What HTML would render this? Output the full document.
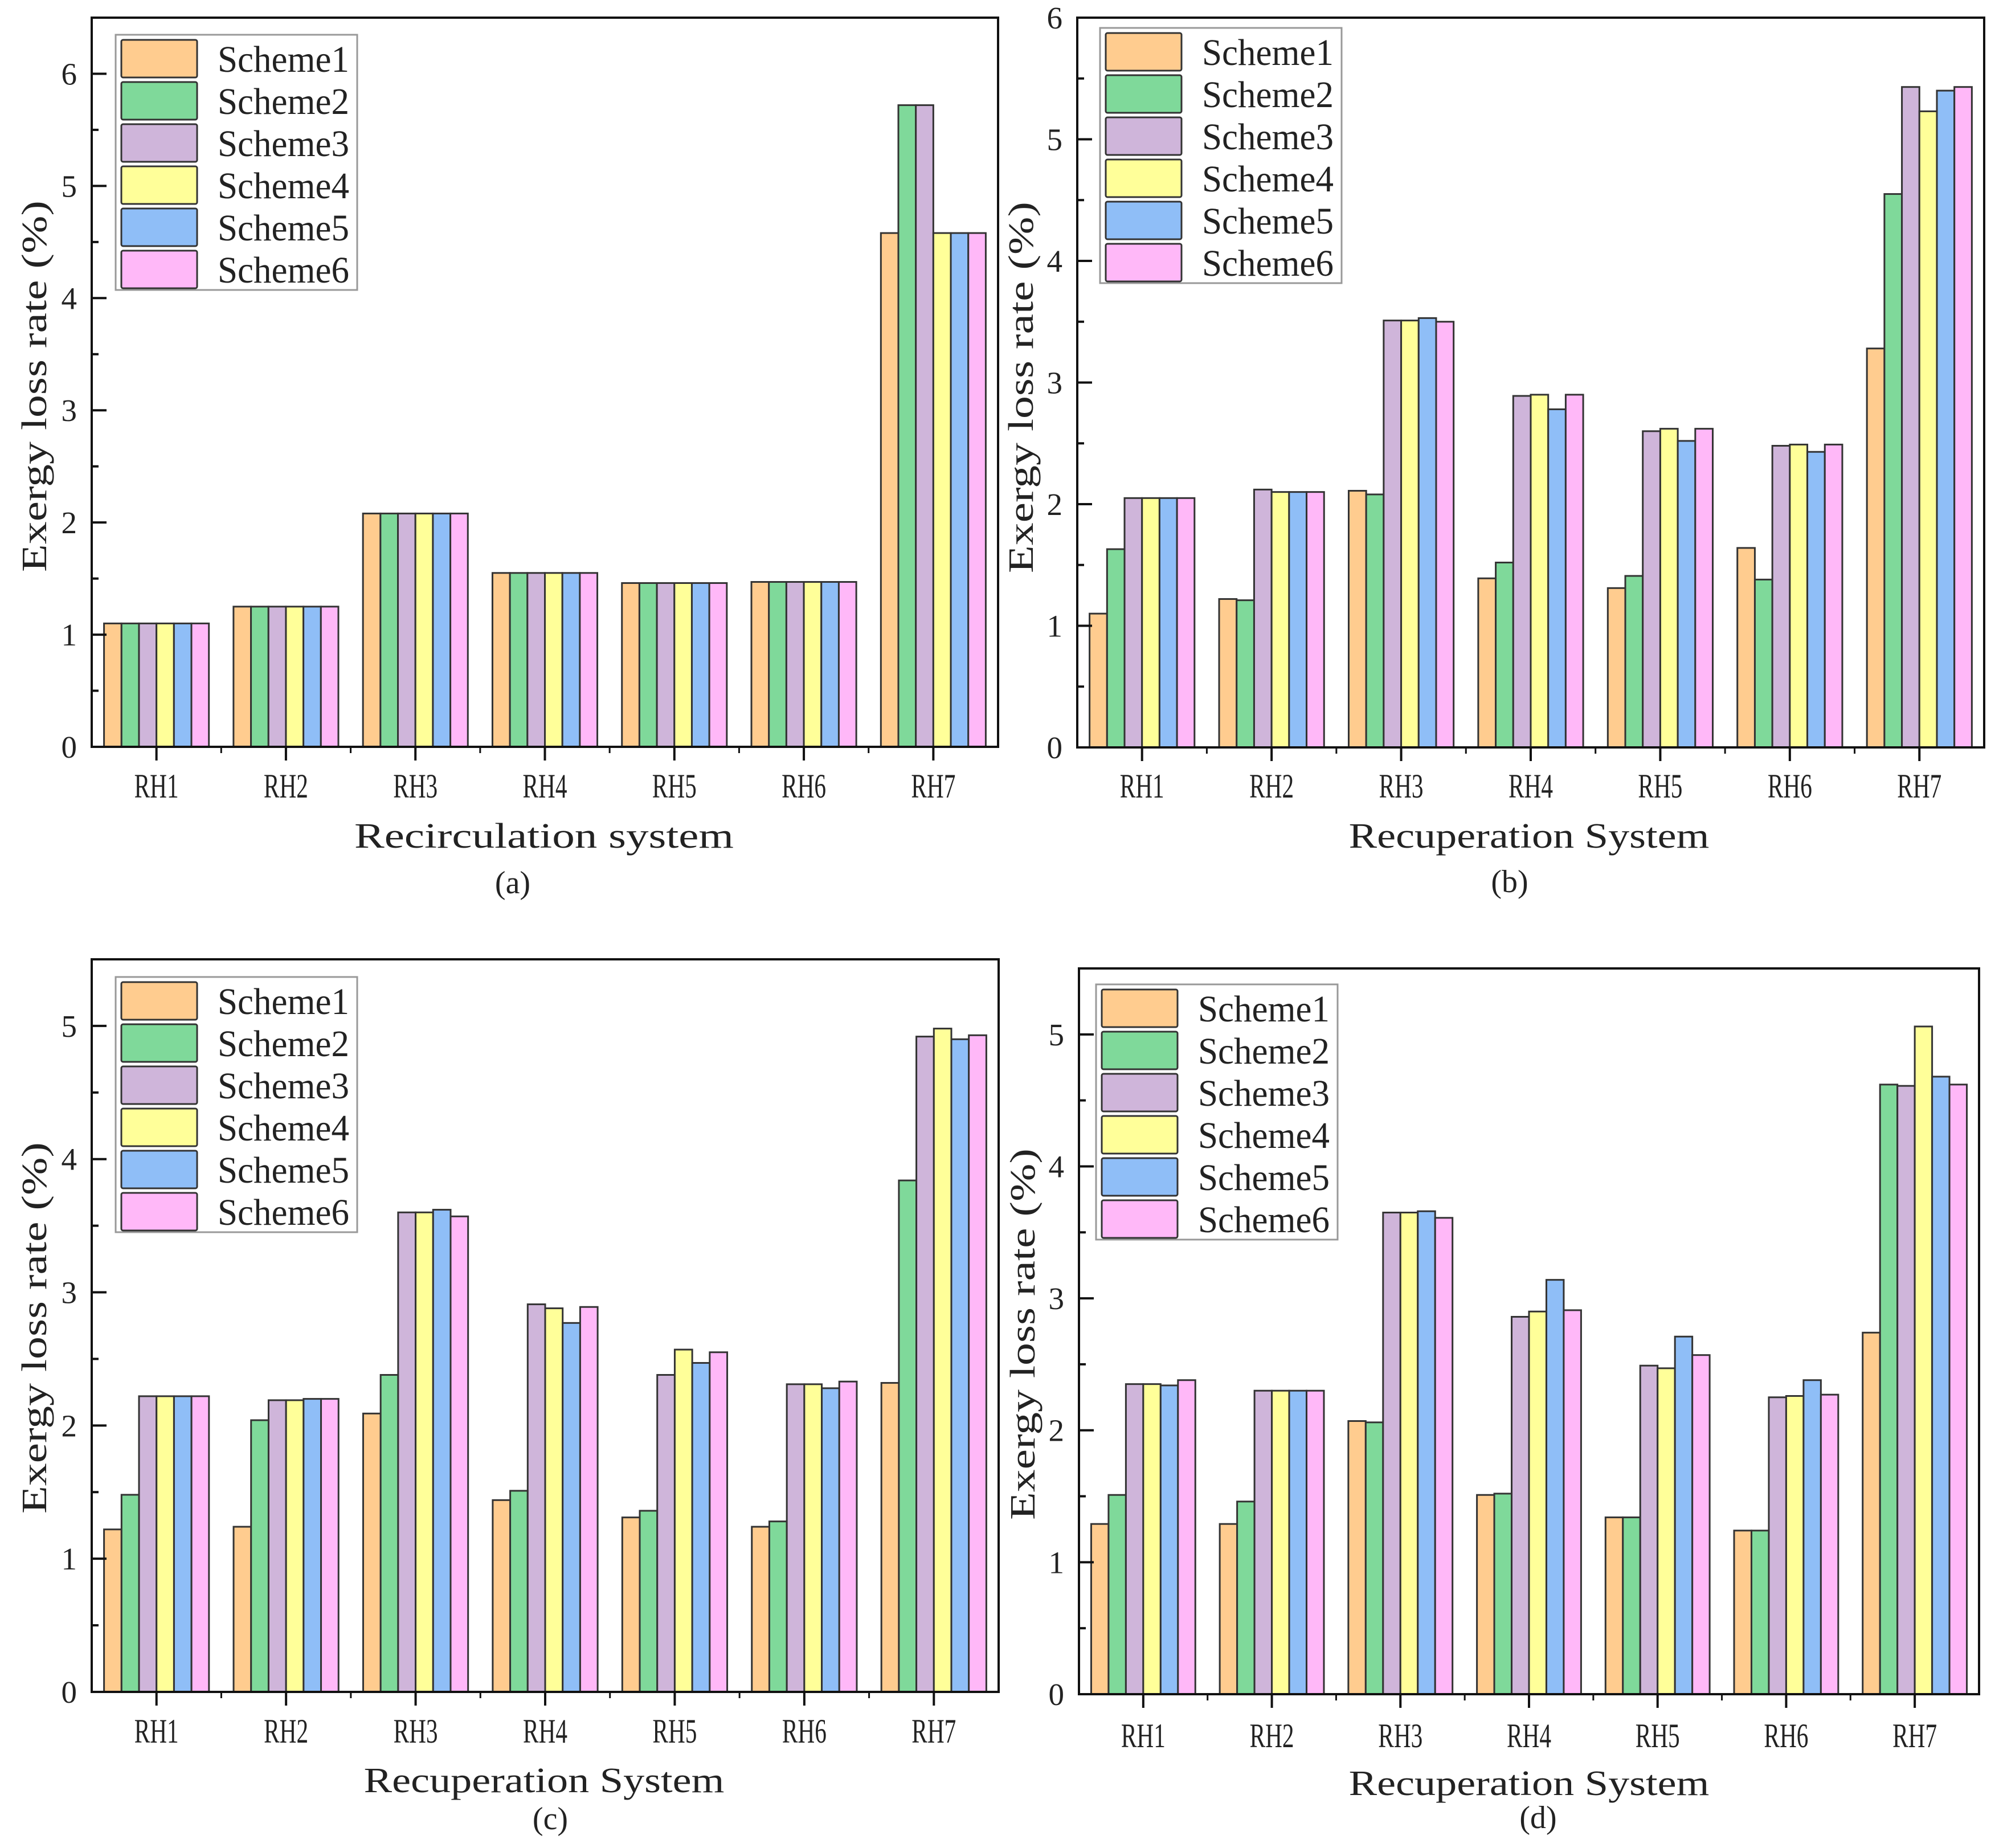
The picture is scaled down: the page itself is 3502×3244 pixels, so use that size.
<!DOCTYPE html>
<html><head><meta charset="utf-8"><style>
html,body{margin:0;padding:0;background:#fff;}
svg{display:block;}
text{font-family:"Liberation Serif",serif;fill:#222;}
</style></head><body>
<svg id="fig" width="3502" height="3244" viewBox="0 0 3502 3244" xmlns="http://www.w3.org/2000/svg"></svg>
<script>
const categories = ["RH1","RH2","RH3","RH4","RH5","RH6","RH7"];
const seriesNames = ["Scheme1","Scheme2","Scheme3","Scheme4","Scheme5","Scheme6"];
const colors = ["#FFCC8F","#7FD99A","#CFB5DA","#FFFF99","#8FBEF7","#FFB8F8"];
// panel (a) values per scheme
const a_s1=[1.10,1.25,2.08,1.55,1.46,1.47,4.58];
const a_s2=[1.10,1.25,2.08,1.55,1.46,1.47,5.72];
const a_s3=[1.10,1.25,2.08,1.55,1.46,1.47,5.72];
const a_s4=[1.10,1.25,2.08,1.55,1.46,1.47,4.58];
const a_s5=[1.10,1.25,2.08,1.55,1.46,1.47,4.58];
const a_s6=[1.10,1.25,2.08,1.55,1.46,1.47,4.58];
// panel (b)
const b_s1=[1.10,1.22,2.11,1.39,1.31,1.64,3.28];
const b_s2=[1.63,1.21,2.08,1.52,1.41,1.38,4.55];
const b_s3=[2.05,2.12,3.51,2.89,2.60,2.48,5.43];
const b_s4=[2.05,2.10,3.51,2.90,2.62,2.49,5.23];
const b_s5=[2.05,2.10,3.53,2.78,2.52,2.43,5.40];
const b_s6=[2.05,2.10,3.50,2.90,2.62,2.49,5.43];
// panel (c)
const c_s1=[1.22,1.24,2.09,1.44,1.31,1.24,2.32];
const c_s2=[1.48,2.04,2.38,1.51,1.36,1.28,3.84];
const c_s3=[2.22,2.19,3.60,2.91,2.38,2.31,4.92];
const c_s4=[2.22,2.19,3.60,2.88,2.57,2.31,4.98];
const c_s5=[2.22,2.20,3.62,2.77,2.47,2.28,4.90];
const c_s6=[2.22,2.20,3.57,2.89,2.55,2.33,4.93];
// panel (d)
const d_s1=[1.29,1.29,2.07,1.51,1.34,1.24,2.74];
const d_s2=[1.51,1.46,2.06,1.52,1.34,1.24,4.62];
const d_s3=[2.35,2.30,3.65,2.86,2.49,2.25,4.61];
const d_s4=[2.35,2.30,3.65,2.90,2.47,2.26,5.06];
const d_s5=[2.34,2.30,3.66,3.14,2.71,2.38,4.68];
const d_s6=[2.38,2.30,3.61,2.91,2.57,2.27,4.62];
const ticksA=[0,1,2,3,4,5,6];
const ticksB=[0,1,2,3,4,5,6];
const ticksC=[0,1,2,3,4,5];
const ticksD=[0,1,2,3,4,5];

const NS="http://www.w3.org/2000/svg";
const svg=document.getElementById('fig');
function mk(tag,attrs,parent){const e=document.createElementNS(NS,tag);for(const k in attrs)e.setAttribute(k,attrs[k]);(parent||svg).appendChild(e);return e;}

const panels=[
 {id:'a',series:[a_s1,a_s2,a_s3,a_s4,a_s5,a_s6],ticks:ticksA,ymax:6.5,L:161,R:1752,T:31,B:1311,xt:'Recirculation system',sub:'(a)',xtx:955,subx:900,ytx:61,yty:678,leg:[203,61],lab:1400,tb:1488,sb:1568},
 {id:'b',series:[b_s1,b_s2,b_s3,b_s4,b_s5,b_s6],ticks:ticksB,ymax:6,L:1891,R:3483,T:31,B:1312,xt:'Recuperation System',sub:'(b)',xtx:2684,subx:2650,ytx:1793,yty:680,leg:[1931,49],lab:1400,tb:1488,sb:1566},
 {id:'c',series:[c_s1,c_s2,c_s3,c_s4,c_s5,c_s6],ticks:ticksC,ymax:5.5,L:161,R:1753,T:1684,B:2970,xt:'Recuperation System',sub:'(c)',xtx:955,subx:966,ytx:61,yty:2331,leg:[203,1715],lab:3059,tb:3146,sb:3211},
 {id:'d',series:[d_s1,d_s2,d_s3,d_s4,d_s5,d_s6],ticks:ticksD,ymax:5.5,L:1894,R:3474,T:1700,B:2974,xt:'Recuperation System',sub:'(d)',xtx:2684,subx:2700,ytx:1796,yty:2342,leg:[1924,1728],lab:3067,tb:3151,sb:3209}
];

panels.forEach(p=>{
  const g=mk('g',{});
  
  
  const step=(p.R-p.L)/categories.length;
  const xs=i=>p.L+(i+0.5)*step;
  const ys=v=>p.B-(v/p.ymax)*(p.B-p.T);
  const bw=step*0.81/6;
  p.series.forEach((vals,s)=>{
    vals.forEach((v,i)=>{
      const x=xs(i)-3*bw+s*bw;
      const r=mk('rect',{x:x,y:ys(v),width:bw,height:p.B-ys(v),fill:colors[s],stroke:'#333','stroke-width':3},g);
      
      
    });
  });
  const fr=mk('rect',{x:p.L,y:p.T,width:p.R-p.L,height:p.B-p.T,fill:'none',stroke:'#111','stroke-width':4},g);
  
  
  p.ticks.forEach(t=>{
    mk('line',{x1:p.L,x2:p.L+26,y1:ys(t),y2:ys(t),stroke:'#111','stroke-width':4},g);
    if(t+0.5<p.ymax) mk('line',{x1:p.L,x2:p.L+12,y1:ys(t+0.5),y2:ys(t+0.5),stroke:'#111','stroke-width':4},g);
    const tl=mk('text',{x:p.L-26,y:ys(t)+19,'text-anchor':'end','font-size':55},g);
    tl.textContent=t;
    
    
  });
  categories.forEach((c,i)=>{
    mk('line',{x1:xs(i),x2:xs(i),y1:p.B,y2:p.B+24,stroke:'#111','stroke-width':4},g);
    if(i>0) mk('line',{x1:p.L+i*step,x2:p.L+i*step,y1:p.B,y2:p.B+11,stroke:'#111','stroke-width':3},g);
    const tl=mk('text',{x:xs(i),y:p.lab,'text-anchor':'middle','font-size':60,textLength:78,lengthAdjust:'spacingAndGlyphs'},g);
    tl.textContent=c;
    
    
  });
  const xt=mk('text',{x:p.xtx,y:p.tb,'text-anchor':'middle','font-size':62,textLength:p.xt.length*33.3,lengthAdjust:'spacingAndGlyphs'},g);
  xt.textContent=p.xt;
  
  
  const sb=mk('text',{x:p.subx,y:p.sb,'text-anchor':'middle','font-size':56},g);
  sb.textContent=p.sub;
  
  
  const yt=mk('text',{x:0,y:0,'text-anchor':'middle','font-size':62,textLength:652,lengthAdjust:'spacingAndGlyphs',transform:'translate('+(p.ytx+20)+','+p.yty+') rotate(-90)'},g);
  yt.textContent='Exergy loss rate (%)';
  
  
  const lx=p.leg[0], ly=p.leg[1];
  const lb=mk('rect',{x:lx,y:ly,width:424,height:448,fill:'#fff',stroke:'#999','stroke-width':3},g);
  
  
  seriesNames.forEach((n,s)=>{
    const yy=ly+9+s*74;
    const sw=mk('rect',{x:lx+10,y:yy,width:133,height:66,fill:colors[s],stroke:'#333','stroke-width':3,rx:3},g);
    
    
    const t=mk('text',{x:lx+179,y:yy+56,'font-size':66,textLength:231,lengthAdjust:'spacingAndGlyphs'},g);
    t.textContent=n;
    
    
  });
});
</script>
</body></html>
